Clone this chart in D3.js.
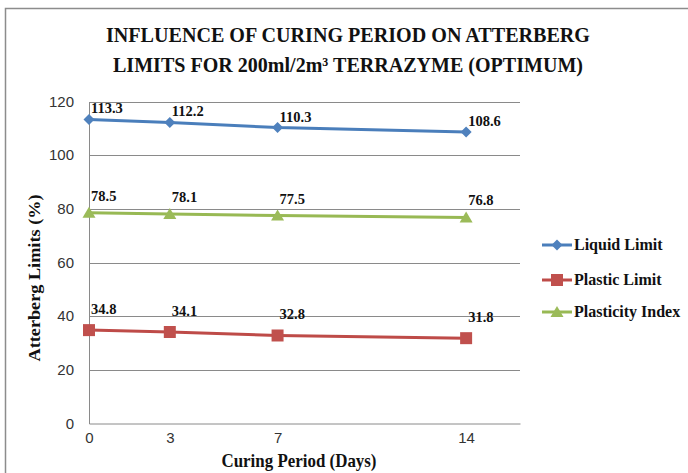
<!DOCTYPE html>
<html>
<head>
<meta charset="utf-8">
<script src="https://cdn.jsdelivr.net/npm/d3@7"></script>
<style>
  body { margin: 0; background: #fff; }
  svg { display: block; }
  .tick text { font-family: "Liberation Sans", Arial, sans-serif; font-size: 15px; fill: #333; }
  .serif { font-family: "Liberation Serif", "Times New Roman", serif; font-weight: bold; fill: #111; }
</style>
</head>
<body>
<div id="chart"></div>
<script>
const days = [0, 3, 7, 14];
const seriesNames = ["Liquid Limit", "Plastic Limit", "Plasticity Index"];
const liquidLimit = [113.3, 112.2, 110.3, 108.6];
const plasticLimit = [34.8, 34.1, 32.8, 31.8];
const plasticityIndex = [78.5, 78.1, 77.5, 76.8];
const yTicks = [0, 20, 40, 60, 80, 100, 120];

const series = [
  { name: seriesNames[0], values: liquidLimit, line: "#4A7EBB", fill: "#4F81BD", marker: "diamond", dy: -6 },
  { name: seriesNames[1], values: plasticLimit, line: "#BE4B48", fill: "#C0504D", marker: "square", dy: -16 },
  { name: seriesNames[2], values: plasticityIndex, line: "#98B954", fill: "#9BBB59", marker: "triangle", dy: -12 }
];

const W = 688, H = 473;
const svg = d3.select("#chart").append("svg").attr("width", W).attr("height", H);
svg.append("rect").attr("width", W).attr("height", H).attr("fill", "#fff");

// outer chart frame (only top and left visible)
svg.append("path").attr("d", "M5.5,473V8.5H688").attr("fill", "none").attr("stroke", "#8c8c8c").attr("stroke-width", 1.5);

const x = d3.scaleLinear().domain([0, 16]).range([89, 520]);
const y = d3.scaleLinear().domain([0, 120]).range([423.5, 101.5]);

// gridlines
svg.append("g").selectAll("line")
  .data(yTicks.filter(d => d > 0))
  .join("line")
  .attr("x1", x(0)).attr("x2", x(16))
  .attr("y1", d => Math.round(y(d)) + 0.5).attr("y2", d => Math.round(y(d)) + 0.5)
  .attr("stroke", "#8a8a8a").attr("stroke-width", 1);

const yAxis = svg.append("g")
  .attr("transform", `translate(${x(0)},0)`)
  .call(d3.axisLeft(y).tickValues(yTicks).tickSize(0).tickPadding(15));
yAxis.select(".domain").attr("stroke", "#8a8a8a");

const xAxis = svg.append("g")
  .attr("transform", `translate(0,${y(0)})`)
  .call(d3.axisBottom(x).tickValues(days).tickSize(0).tickSizeOuter(0).tickPadding(9).tickFormat(d3.format("d")));
xAxis.select(".domain").attr("stroke", "#8a8a8a");

function markerPath(type) {
  if (type === "diamond") return "M0,-5.5L5.5,0L0,5.5L-5.5,0Z";
  if (type === "square") return "M-6,-6H6V6H-6Z";
  return "M0,-6L6.5,5H-6.5Z";
}

const line = d3.line().x((d, i) => x(days[i])).y(d => y(d));

series.forEach(s => {
  svg.append("path")
    .datum(s.values)
    .attr("fill", "none")
    .attr("stroke", s.line)
    .attr("stroke-width", 3)
    .attr("d", line);

  svg.append("g").selectAll("path")
    .data(s.values)
    .join("path")
    .attr("transform", (d, i) => `translate(${x(days[i])},${y(d)})`)
    .attr("d", markerPath(s.marker))
    .attr("fill", s.fill);

  svg.append("g").selectAll("text")
    .data(s.values)
    .join("text")
    .attr("class", "serif")
    .attr("x", (d, i) => x(days[i]) + 2)
    .attr("y", d => y(d) + s.dy)
    .style("font-size", "14.5px")
    .text(d => d.toFixed(1));
});

// legend
const legend = svg.append("g").attr("transform", "translate(542,0)");
const legendRows = [245, 280, 312];
series.forEach((s, i) => {
  const g = legend.append("g").attr("transform", `translate(0,${legendRows[i]})`);
  g.append("line").attr("x1", 0).attr("x2", 30).attr("stroke", s.line).attr("stroke-width", 3);
  g.append("path").attr("transform", "translate(15,0)").attr("d", markerPath(s.marker)).attr("fill", s.fill);
  g.append("text").attr("class", "serif").attr("x", 32).attr("y", 5)
    .style("font-size", "16px").text(s.name);
});

// titles
svg.append("text").attr("class", "serif")
  .attr("x", 348).attr("y", 41.5).attr("text-anchor", "middle")
  .attr("textLength", 484).attr("lengthAdjust", "spacingAndGlyphs")
  .style("font-size", "20.5px")
  .text("INFLUENCE OF CURING PERIOD ON ATTERBERG");

svg.append("text").attr("class", "serif")
  .attr("x", 348).attr("y", 71.5).attr("text-anchor", "middle")
  .attr("textLength", 470).attr("lengthAdjust", "spacingAndGlyphs")
  .style("font-size", "20.5px")
  .text("LIMITS FOR 200ml/2m³ TERRAZYME (OPTIMUM)");

svg.append("text").attr("class", "serif")
  .attr("x", 299).attr("y", 467).attr("text-anchor", "middle")
  .attr("textLength", 155).attr("lengthAdjust", "spacingAndGlyphs")
  .style("font-size", "19px")
  .text("Curing Period (Days)");

svg.append("text").attr("class", "serif")
  .attr("transform", "translate(40,278) rotate(-90)")
  .attr("text-anchor", "middle")
  .attr("textLength", 167).attr("lengthAdjust", "spacingAndGlyphs")
  .style("font-size", "17px")
  .text("Atterberg Limits (%)");
</script>
</body>
</html>
